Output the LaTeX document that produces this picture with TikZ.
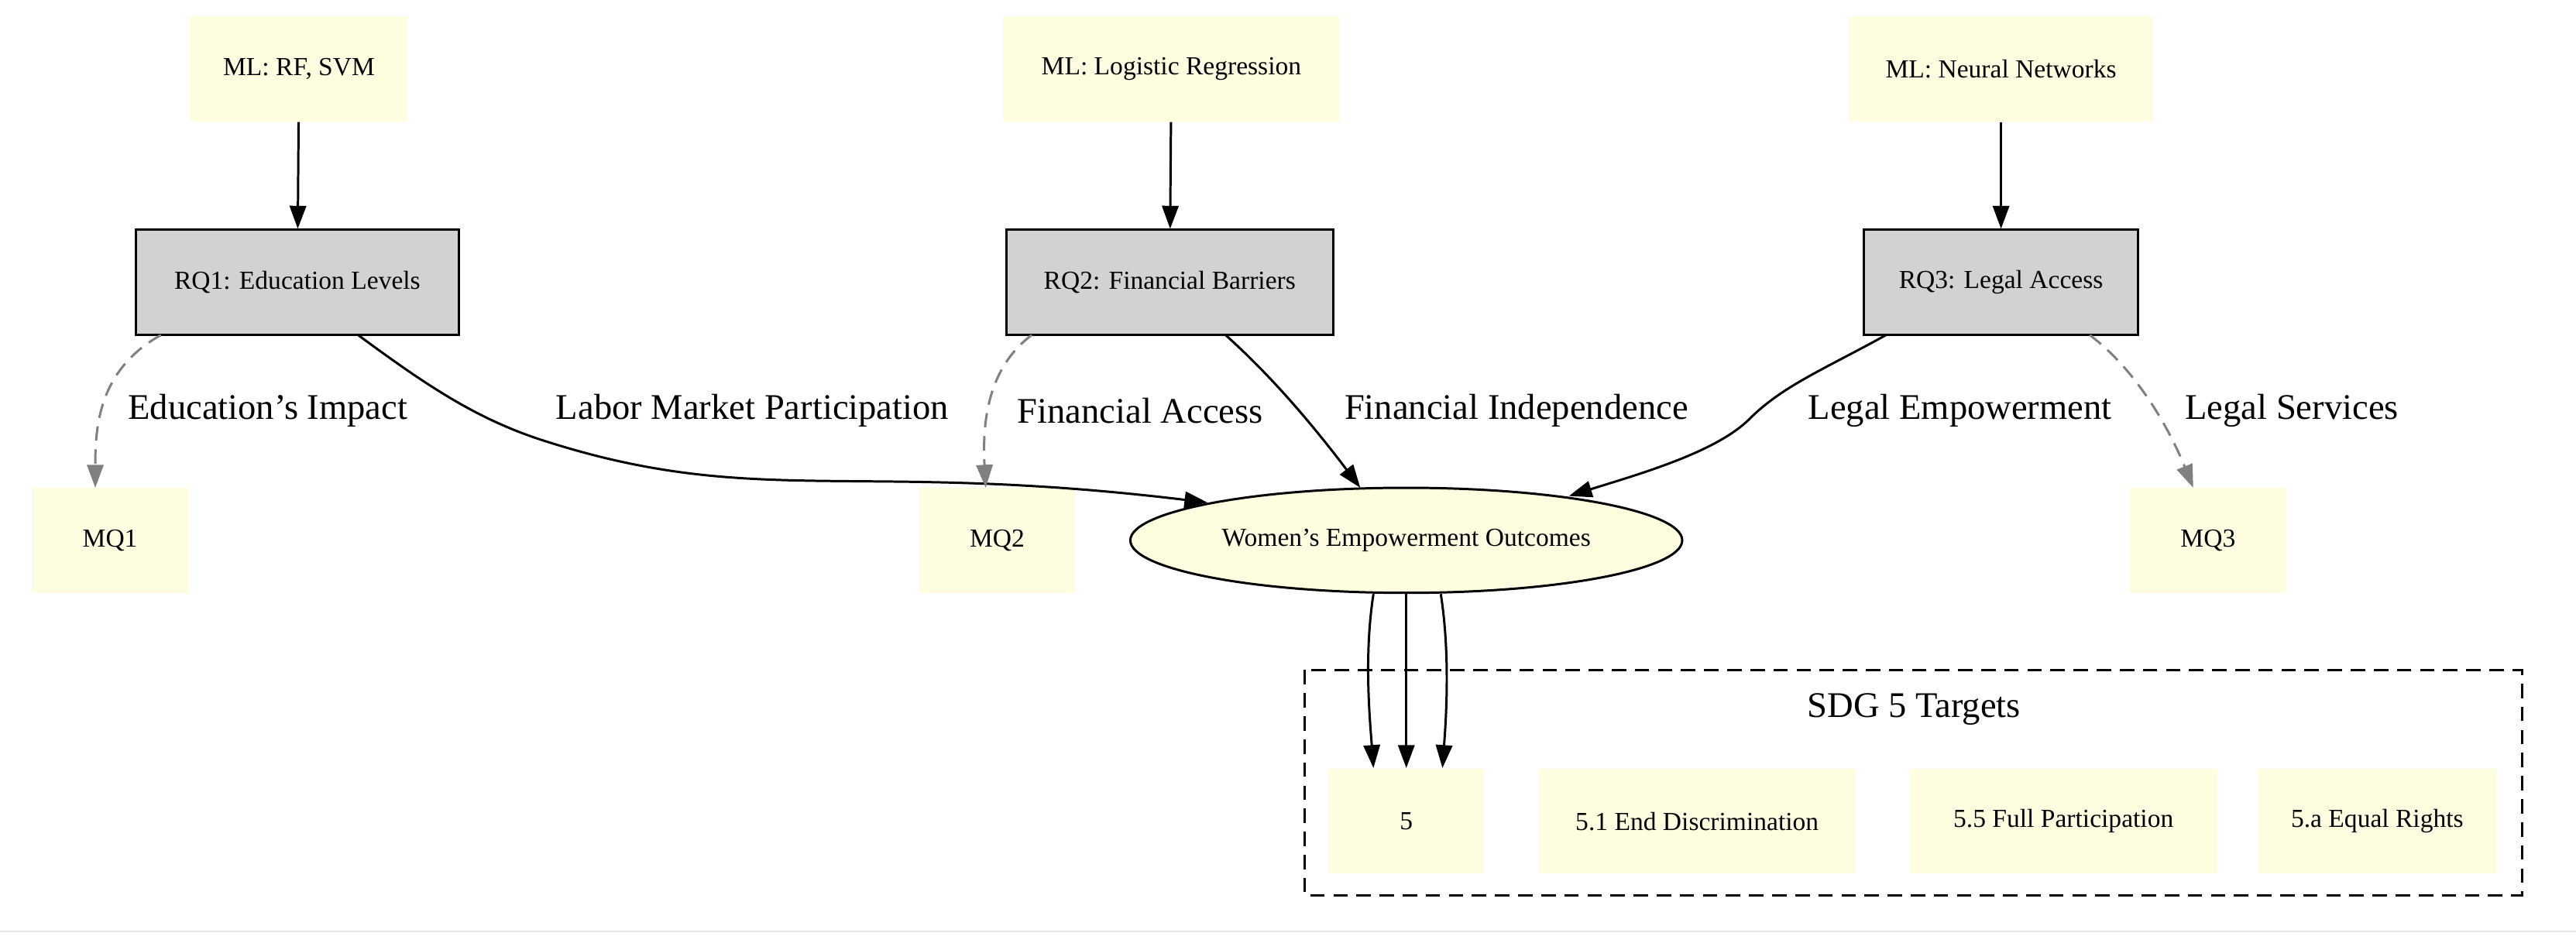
\documentclass[tikz,border=0pt]{standalone}
\usepackage{fontspec}
\setmainfont{Liberation Serif}
\usetikzlibrary{arrows.meta,shapes.geometric}
\begin{document}
\begin{tikzpicture}[x=0.02cm,y=-0.02cm,
  box/.style={fill=yellow!12!white,draw=none,minimum height=1.28cm,font=\fontsize{9}{11}\selectfont,inner sep=0},
  rq/.style={box,fill=gray!35,draw=black,line width=0.8pt},
  arr/.style={-{Triangle[length=0.28cm,width=0.2cm]},line width=0.8pt},
  darr/.style={arr,gray,dashed,dash pattern=on 5pt off 3pt},
  lab/.style={font=\fontsize{12.5}{14}\selectfont,fill=white,inner sep=1pt}]
\useasboundingbox (0,0) rectangle (1568,578);
\draw[gray!20,line width=0.6pt] (0,567) -- (1568,567);
\node[box,minimum width=2.64cm] (ml1) at (182,42) {ML: RF, SVM};
\node[box,minimum width=4.1cm] (ml2) at (713,42) {ML: Logistic Regression};
\node[box,minimum width=3.7cm] (ml3) at (1218,42) {ML: Neural Networks};
\node[rq,minimum width=3.94cm] (rq1) at (181,172) {RQ1: Education Levels};
\node[rq,minimum width=3.98cm] (rq2) at (712,172) {RQ2: Financial Barriers};
\node[rq,minimum width=3.34cm] (rq3) at (1218,172) {RQ3: Legal Access};
\node[box,minimum width=1.9cm] (mq1) at (67,329) {MQ1};
\node[box,minimum width=1.9cm] (mq2) at (607,329) {MQ2};
\node[box,minimum width=1.9cm] (mq3) at (1344,329) {MQ3};
\node[ellipse,draw,line width=0.8pt,fill=yellow!12!white,minimum width=6.72cm,minimum height=1.28cm,inner sep=0,font=\fontsize{9}{11}\selectfont] (wo) at (856,329) {Women's Empowerment Outcomes};
\draw[dashed,line width=0.8pt,dash pattern=on 5pt off 3pt] (794,408) rectangle (1535,545);
\node[font=\fontsize{12.5}{14}\selectfont] (sdg) at (1165,432) {SDG 5 Targets};
\node[box,minimum width=1.9cm] (t5) at (856,500) {5};
\node[box,minimum width=3.86cm] (t51) at (1033,500) {5.1 End Discrimination};
\node[box,minimum width=3.74cm] (t55) at (1256,500) {5.5 Full Participation};
\node[box,minimum width=2.9cm] (t5a) at (1447,500) {5.a Equal Rights};
\draw[arr] (ml1) -- (rq1);
\draw[arr] (ml2) -- (rq2);
\draw[arr] (ml3) -- (rq3);
\coordinate (a1) at (98,204); \coordinate (b1) at (58,297);
\draw[darr] (a1) .. controls (60,225) and (58,260) .. (b1);
\node[lab] at (163,250) {Education's Impact};
\coordinate (a2) at (218,204); \coordinate (b2) at (735,306);
\draw[arr] (a2) .. controls (260,235) and (290,255) .. (330,268) .. controls (460,310) and (520,280) .. (b2);
\node[lab] at (458,250) {Labor Market Participation};
\coordinate (a3) at (628,204); \coordinate (b3) at (600,297);
\draw[darr] (a3) .. controls (600,225) and (598,260) .. (b3);
\node[lab] at (694,250) {Financial Access};
\coordinate (a4) at (746,204); \coordinate (b4) at (828,297);
\draw[arr] (a4) .. controls (775,230) and (800,260) .. (b4);
\node[lab] at (923,250) {Financial Independence};
\coordinate (a5) at (1148,204); \coordinate (b5) at (955,302);
\draw[arr] (a5) .. controls (1110,225) and (1085,235) .. (1065,255) .. controls (1045,275) and (1000,288) .. (b5);
\node[lab] at (1193,250) {Legal Empowerment};
\coordinate (a6) at (1272,204); \coordinate (b6) at (1335,297);
\draw[darr] (a6) .. controls (1300,225) and (1320,260) .. (b6);
\node[lab] at (1395,250) {Legal Services};
\draw[arr] ([xshift=-0.4cm]wo.south) .. controls (830,400) and (834,440) .. ([xshift=-0.4cm]t5.north);
\draw[arr] (wo.south) -- (t5.north);
\draw[arr] ([xshift=0.42cm]wo.south) .. controls (883,400) and (880,440) .. ([xshift=0.44cm]t5.north);
\end{tikzpicture}
\end{document}
